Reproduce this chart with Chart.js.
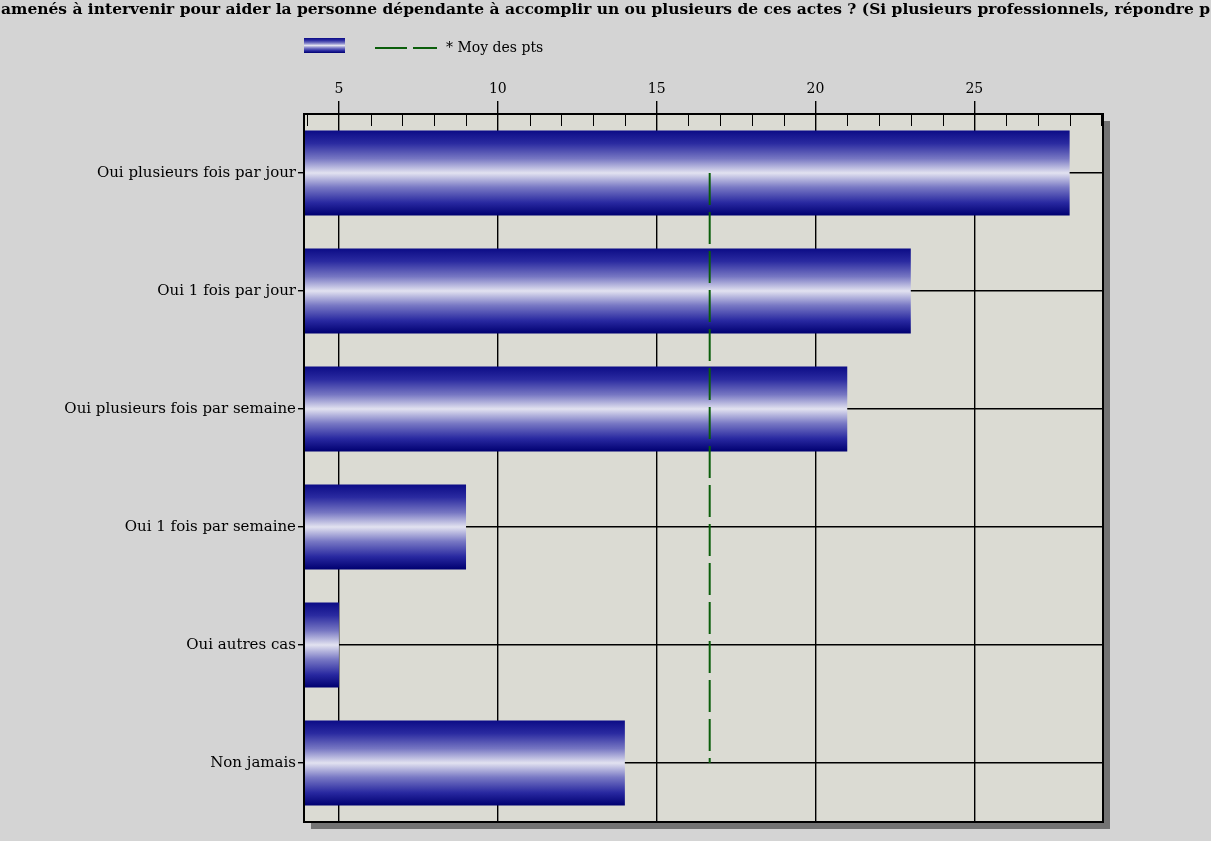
<!DOCTYPE html>
<html>
<head>
<meta charset="utf-8">
<script src="https://cdn.jsdelivr.net/npm/chart.js@4/dist/chart.umd.min.js"></script>
<style>
  html, body { margin: 0; padding: 0; background: #d3d3d3; }
  #wrap { width: 1211px; height: 841px; }
</style>
</head>
<body>
<div id="wrap"><canvas id="chart" width="1211" height="841"></canvas></div>
<script>
/* chart data */
var titleText = 'amenés à intervenir pour aider la personne dépendante à accomplir un ou plusieurs de ces actes ? (Si plusieurs professionnels, répondre p';
var categories = [
  'Oui plusieurs fois par jour',
  'Oui 1 fois par jour',
  'Oui plusieurs fois par semaine',
  'Oui 1 fois par semaine',
  'Oui autres cas',
  'Non jamais'
];
var counts = [28, 23, 21, 9, 5, 14];
var meanLine = [16.67, 16.67, 16.67, 16.67, 16.67, 16.67];
var meanLabel = '* Moy des pts';
var majorTicks = [5, 10, 15, 20, 25];
var axisMin = 3.9;
var axisMax = 29.05;

var serif = "'DejaVu Serif', 'Liberation Serif', serif";

/* gradient for each bar, built from the y scale */
function barGradient(c, top, bottom) {
  var g = c.createLinearGradient(0, top, 0, bottom);
  g.addColorStop(0, '#0c0c86');
  g.addColorStop(0.15, '#2a2aa0');
  g.addColorStop(0.33, '#7676c2');
  g.addColorStop(0.5, '#e2e2f0');
  g.addColorStop(0.67, '#7878c4');
  g.addColorStop(0.85, '#2828a0');
  g.addColorStop(1, '#000070');
  return g;
}

function barFill(ctx) {
  var chart = ctx.chart;
  var yScale = chart.scales.y;
  if (!chart.chartArea || !yScale || typeof ctx.dataIndex == 'undefined') {
    return '#20209a';
  }
  var center = yScale.getPixelForValue(ctx.dataIndex);
  var half = (yScale.height / categories.length) * 0.72 / 2;
  return barGradient(chart.ctx, center - half, center + half);
}

var backdrop = {
  id: 'backdrop',
  beforeDraw: function(chart) {
    var c = chart.ctx;
    var a = chart.chartArea;
    c.save();
    c.fillStyle = '#d4d4d4';
    c.fillRect(0, 0, chart.width, chart.height);
    // drop shadow
    c.fillStyle = '#737373';
    c.fillRect(a.left + 7, a.top + 7, a.right - a.left, a.bottom - a.top);
    c.fillStyle = '#dbdbd3';
    c.fillRect(a.left, a.top, a.right - a.left, a.bottom - a.top);
    c.restore();
  },
  afterDraw: function(chart) {
    var c = chart.ctx;
    var a = chart.chartArea;
    var x = chart.scales.x;
    c.save();
    // minor ticks, one per unit, hanging inside the frame
    c.strokeStyle = '#000';
    c.lineWidth = 1;
    for (var v = Math.ceil(axisMin); v <= Math.floor(axisMax); v++) {
      if (majorTicks.indexOf(v) >= 0) continue;
      var px = Math.round(x.getPixelForValue(v)) + 0.5;
      c.beginPath();
      c.moveTo(px, a.top);
      c.lineTo(px, a.top + 12);
      c.stroke();
    }
    // frame
    c.lineWidth = 2;
    c.strokeRect(a.left, a.top, a.right - a.left, a.bottom - a.top);

    // title, clipped at both sides like the original
    c.font = 'bold 14px ' + serif;
    c.fillStyle = '#000';
    c.textBaseline = 'middle';
    c.textAlign = 'left';
    var w = c.measureText(titleText).width;
    c.save();
    c.translate(1, 10);
    c.scale(1209 / w, 1);
    c.fillText(titleText, 0, 0);
    c.restore();

    // legend
    c.fillStyle = barGradient(c, 38, 53);
    c.fillRect(304, 38, 41, 15);
    c.strokeStyle = '#0b5e0b';
    c.lineWidth = 2;
    c.setLineDash([32, 6]);
    c.beginPath();
    c.moveTo(375, 48);
    c.lineTo(437, 48);
    c.stroke();
    c.setLineDash([]);
    c.font = '14px ' + serif;
    c.fillStyle = '#000';
    c.fillText(meanLabel, 446, 48);
    c.restore();
  }
};

var chart = new Chart(document.getElementById('chart'), {
  type: 'bar',
  data: {
    labels: categories,
    datasets: [
      {
        type: 'line',
        label: meanLabel,
        data: meanLine,
        borderColor: '#0b5e0b',
        borderWidth: 2,
        borderDash: [32, 7],
        pointRadius: 0,
        fill: false,
        order: 0
      },
      {
        label: '',
        data: counts,
        backgroundColor: barFill,
        borderWidth: 0,
        barPercentage: 0.72,
        categoryPercentage: 1,
        base: axisMin,
        order: 1
      }
    ]
  },
  options: {
    indexAxis: 'y',
    responsive: false,
    animation: false,
    devicePixelRatio: 1,
    layout: { padding: { top: 0, left: 0, right: 108, bottom: 19 } },
    plugins: {
      legend: { display: false },
      title: { display: false },
      tooltip: { enabled: false }
    },
    scales: {
      x: {
        position: 'top',
        min: axisMin,
        max: axisMax,
        afterFit: function(scale) { scale.height = 114; },
        afterBuildTicks: function(scale) {
          scale.ticks = majorTicks.map(function(v) { return { value: v }; });
        },
        grid: { color: '#000', lineWidth: 1.4, tickLength: 13, drawTicks: true },
        border: { display: false },
        ticks: {
          color: '#000',
          font: { family: serif, size: 14 },
          padding: 3,
          maxRotation: 0,
          autoSkip: false
        }
      },
      y: {
        afterFit: function(scale) { scale.width = 304; },
        grid: { color: '#000', lineWidth: 1.4, offset: false, tickLength: 6 },
        border: { display: false },
        ticks: {
          color: '#000',
          font: { family: serif, size: 15 },
          padding: 2
        }
      }
    }
  },
  plugins: [backdrop]
});
</script>
</body>
</html>
